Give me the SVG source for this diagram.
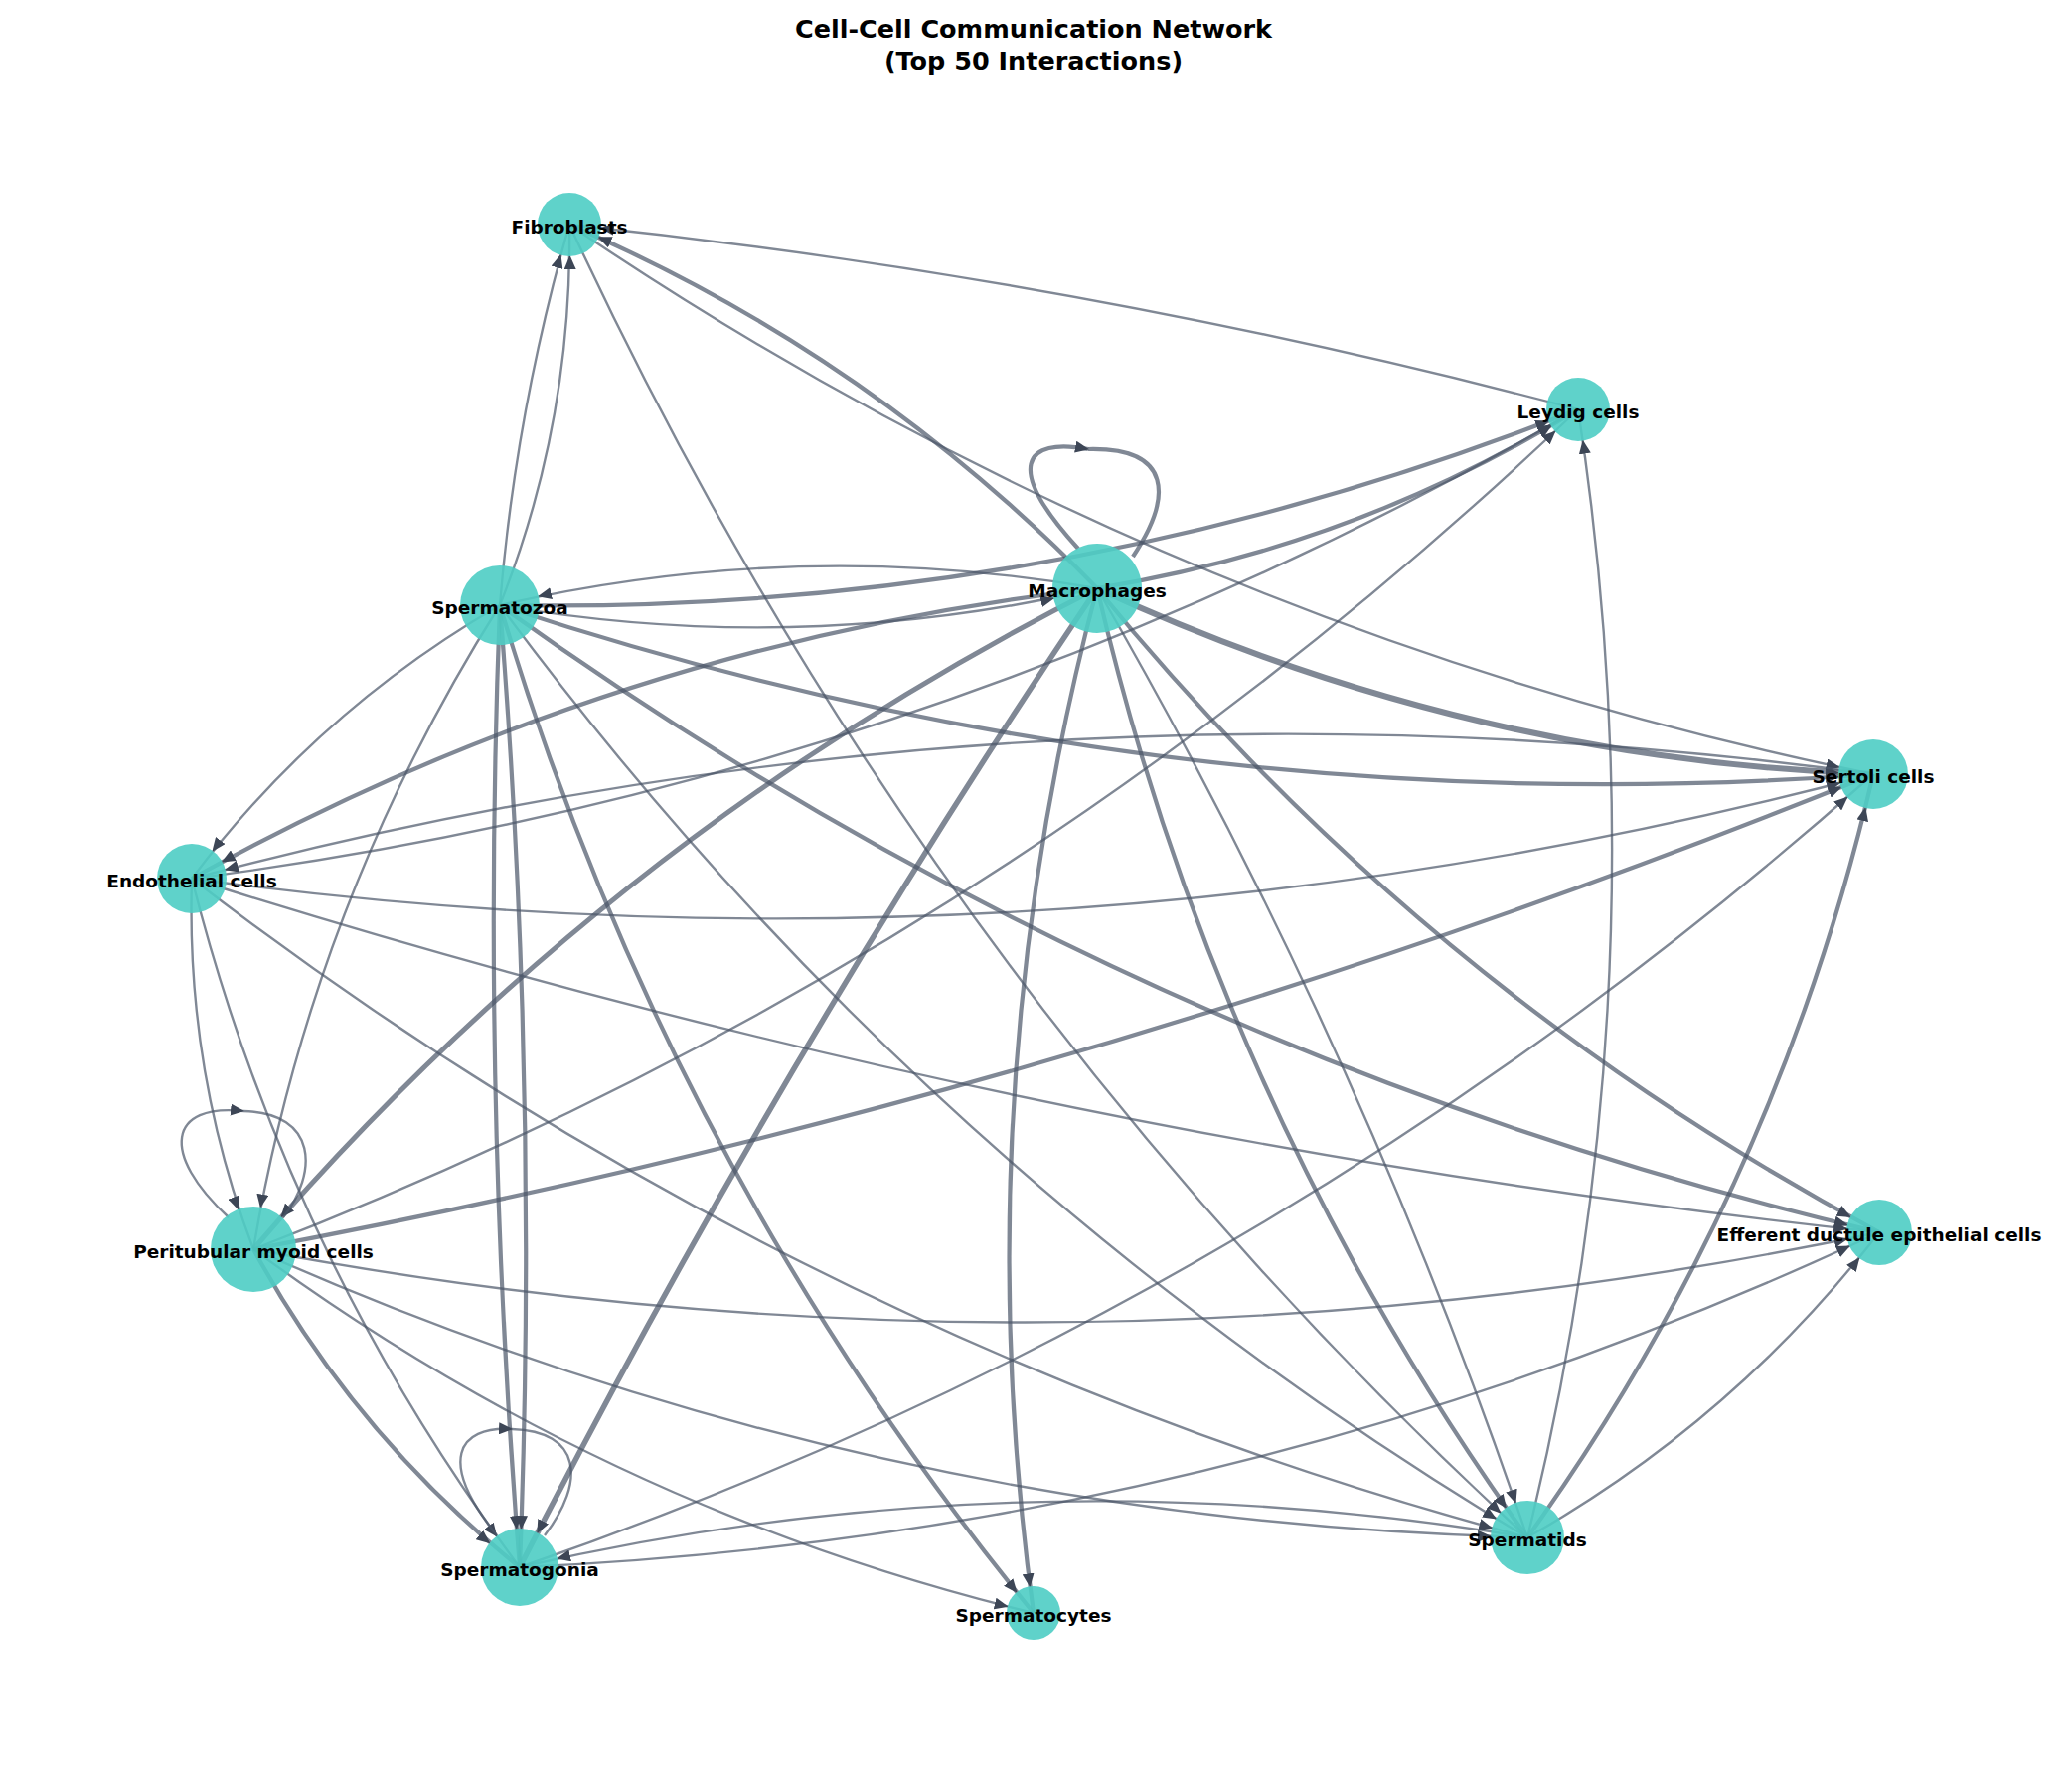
<svg xmlns="http://www.w3.org/2000/svg" width="2085" height="1783" viewBox="0 0 2085 1783">
<style>
.e{fill:none;stroke:#4a5568;stroke-opacity:0.7;stroke-width:2.4}
.t{stroke-width:4.2}
.n{fill:#4ECDC4;fill-opacity:0.9}
.l{font-family:"DejaVu Sans",sans-serif;font-weight:bold;font-size:18.5px;text-anchor:middle;dominant-baseline:central;fill:#000}
.h{font-family:"DejaVu Sans",sans-serif;font-weight:bold;font-size:25.5px;text-anchor:middle;fill:#000}
</style>
<defs>
<marker id="a0" markerUnits="userSpaceOnUse" markerWidth="14" markerHeight="12" refX="13" refY="6" orient="auto"><path d="M0,0 L14,6 L0,12 z" fill="#3d4656"/></marker>
<marker id="aF" markerUnits="userSpaceOnUse" markerWidth="14" markerHeight="12" refX="45" refY="6" orient="auto"><path d="M0,0 L14,6 L0,12 z" fill="#3d4656"/></marker>
<marker id="aL" markerUnits="userSpaceOnUse" markerWidth="14" markerHeight="12" refX="45" refY="6" orient="auto"><path d="M0,0 L14,6 L0,12 z" fill="#3d4656"/></marker>
<marker id="aM" markerUnits="userSpaceOnUse" markerWidth="14" markerHeight="12" refX="58" refY="6" orient="auto"><path d="M0,0 L14,6 L0,12 z" fill="#3d4656"/></marker>
<marker id="aZ" markerUnits="userSpaceOnUse" markerWidth="14" markerHeight="12" refX="53" refY="6" orient="auto"><path d="M0,0 L14,6 L0,12 z" fill="#3d4656"/></marker>
<marker id="aS" markerUnits="userSpaceOnUse" markerWidth="14" markerHeight="12" refX="48" refY="6" orient="auto"><path d="M0,0 L14,6 L0,12 z" fill="#3d4656"/></marker>
<marker id="aE" markerUnits="userSpaceOnUse" markerWidth="14" markerHeight="12" refX="48" refY="6" orient="auto"><path d="M0,0 L14,6 L0,12 z" fill="#3d4656"/></marker>
<marker id="aP" markerUnits="userSpaceOnUse" markerWidth="14" markerHeight="12" refX="56" refY="6" orient="auto"><path d="M0,0 L14,6 L0,12 z" fill="#3d4656"/></marker>
<marker id="aD" markerUnits="userSpaceOnUse" markerWidth="14" markerHeight="12" refX="46" refY="6" orient="auto"><path d="M0,0 L14,6 L0,12 z" fill="#3d4656"/></marker>
<marker id="aT" markerUnits="userSpaceOnUse" markerWidth="14" markerHeight="12" refX="50" refY="6" orient="auto"><path d="M0,0 L14,6 L0,12 z" fill="#3d4656"/></marker>
<marker id="aG" markerUnits="userSpaceOnUse" markerWidth="14" markerHeight="12" refX="52" refY="6" orient="auto"><path d="M0,0 L14,6 L0,12 z" fill="#3d4656"/></marker>
<marker id="aC" markerUnits="userSpaceOnUse" markerWidth="14" markerHeight="12" refX="40" refY="6" orient="auto"><path d="M0,0 L14,6 L0,12 z" fill="#3d4656"/></marker>
</defs>
<rect width="2085" height="1783" fill="#fff"/>
<text class="h" x="1040" y="38">Cell-Cell Communication Network</text>
<text class="h" x="1040" y="70">(Top 50 Interactions)</text>
<g id="connectors">
<path class="e" d="M503,609 Q576,425 573,226" marker-end="url(#aF)"/>
<path class="e" d="M503,609 Q519,414 573,226" marker-end="url(#aF)"/>
<path class="e t" d="M1104,592 Q875,356 573,226" marker-end="url(#aF)"/>
<path class="e" d="M1588,412 Q1090,280 573,226" marker-end="url(#aF)"/>
<path class="e" d="M573,226 Q1174,634 1885,779" marker-end="url(#aS)"/>
<path class="e" d="M573,226 Q923,983 1537,1547" marker-end="url(#aT)"/>
<path class="e t" d="M503,609 Q1065,619 1588,412" marker-end="url(#aL)"/>
<path class="e t" d="M1104,592 Q1364,550 1588,412" marker-end="url(#aL)"/>
<path class="e" d="M193,884 Q938,788 1588,412" marker-end="url(#aL)"/>
<path class="e" d="M255,1257 Q1006,968 1588,412" marker-end="url(#aL)"/>
<path class="e" d="M1537,1547 Q1676,985 1588,412" marker-end="url(#aL)"/>
<path class="e" d="M503,609 Q805,661 1104,592" marker-end="url(#aM)"/>
<path class="e" d="M1104,592 Q802,540 503,609" marker-end="url(#aZ)"/>
<path class="e t" d="M1085,552 C1010,470 1030,440 1095,452" marker-end="url(#a0)"/>
<path class="e t" d="M1095,452 C1180,450 1180,500 1140,560"/>
<path class="e t" d="M503,609 Q1177,832 1885,779" marker-end="url(#aS)"/>
<path class="e t" style="stroke-width:6" d="M1104,592 Q1476,764 1885,779" marker-end="url(#aS)"/>
<path class="e t" d="M255,1257 Q1094,1100 1885,779" marker-end="url(#aS)"/>
<path class="e t" d="M1537,1547 Q1788,1198 1885,779" marker-end="url(#aS)"/>
<path class="e" d="M523,1577 Q1284,1314 1885,779" marker-end="url(#aS)"/>
<path class="e" d="M193,884 Q1050,1001 1885,779" marker-end="url(#aS)"/>
<path class="e" d="M1885,779 Q1028,662 193,884" marker-end="url(#aE)"/>
<path class="e" d="M503,609 Q320,715 193,884" marker-end="url(#aE)"/>
<path class="e t" d="M1104,592 Q619,647 193,884" marker-end="url(#aE)"/>
<path class="e" d="M503,609 Q314,908 255,1257" marker-end="url(#aP)"/>
<path class="e t" style="stroke-width:5" d="M1104,592 Q613,840 255,1257" marker-end="url(#aP)"/>
<path class="e" d="M193,884 Q187,1077 255,1257" marker-end="url(#aP)"/>
<path class="e" d="M230,1225 C160,1160 170,1110 245,1118" marker-end="url(#a0)"/>
<path class="e" d="M245,1118 C320,1120 320,1180 285,1225"/>
<path class="e t" d="M503,609 Q484,1094 523,1577" marker-end="url(#aG)"/>
<path class="e t" d="M503,609 Q542,1092 523,1577" marker-end="url(#aG)"/>
<path class="e t" style="stroke-width:5.5" d="M1104,592 Q784,1067 523,1577" marker-end="url(#aG)"/>
<path class="e t" d="M255,1257 Q357,1444 523,1577" marker-end="url(#aG)"/>
<path class="e" d="M193,884 Q289,1264 523,1577" marker-end="url(#aG)"/>
<path class="e" d="M500,1545 C440,1470 460,1435 515,1438" marker-end="url(#a0)"/>
<path class="e" d="M515,1438 C585,1440 590,1490 548,1545"/>
<path class="e t" d="M503,609 Q670,1170 1040,1623" marker-end="url(#aC)"/>
<path class="e t" d="M1104,592 Q969,1101 1040,1623" marker-end="url(#aC)"/>
<path class="e" d="M255,1257 Q611,1519 1040,1623" marker-end="url(#aC)"/>
<path class="e t" d="M503,609 Q1134,1063 1891,1240" marker-end="url(#aD)"/>
<path class="e t" d="M1104,592 Q1433,995 1891,1240" marker-end="url(#aD)"/>
<path class="e" d="M193,884 Q1024,1147 1891,1240" marker-end="url(#aD)"/>
<path class="e" d="M255,1257 Q1075,1412 1891,1240" marker-end="url(#aD)"/>
<path class="e" d="M523,1577 Q1241,1545 1891,1240" marker-end="url(#aD)"/>
<path class="e" d="M1537,1547 Q1745,1429 1891,1240" marker-end="url(#aD)"/>
<path class="e" d="M503,609 Q926,1181 1537,1547" marker-end="url(#aT)"/>
<path class="e t" d="M1104,592 Q1225,1113 1537,1547" marker-end="url(#aT)"/>
<path class="e" d="M1104,592 Q1368,1048 1537,1547" marker-end="url(#aT)"/>
<path class="e" d="M193,884 Q799,1350 1537,1547" marker-end="url(#aT)"/>
<path class="e" d="M255,1257 Q867,1530 1537,1547" marker-end="url(#aT)"/>
<path class="e" d="M1537,1547 Q1027,1461 523,1577" marker-end="url(#aG)"/>
</g>
<g id="n-fibroblasts"><circle class="n" cx="573" cy="226" r="32"/><text class="l" x="573" y="228">Fibroblasts</text></g>
<g id="n-leydig"><circle class="n" cx="1588" cy="412" r="32"/><text class="l" x="1588" y="414">Leydig cells</text></g>
<g id="n-macrophages"><circle class="n" cx="1104" cy="592" r="45"/><text class="l" x="1104" y="594">Macrophages</text></g>
<g id="n-spermatozoa"><circle class="n" cx="503" cy="609" r="40"/><text class="l" x="503" y="611">Spermatozoa</text></g>
<g id="n-sertoli"><circle class="n" cx="1885" cy="779" r="35"/><text class="l" x="1885" y="781">Sertoli cells</text></g>
<g id="n-endothelial"><circle class="n" cx="193" cy="884" r="35"/><text class="l" x="193" y="886">Endothelial cells</text></g>
<g id="n-peritubular"><circle class="n" cx="255" cy="1257" r="43"/><text class="l" x="255" y="1259">Peritubular myoid cells</text></g>
<g id="n-efferent"><circle class="n" cx="1891" cy="1240" r="33"/><text class="l" x="1891" y="1242">Efferent ductule epithelial cells</text></g>
<g id="n-spermatids"><circle class="n" cx="1537" cy="1547" r="37"/><text class="l" x="1537" y="1549">Spermatids</text></g>
<g id="n-spermatogonia"><circle class="n" cx="523" cy="1577" r="39"/><text class="l" x="523" y="1579">Spermatogonia</text></g>
<g id="n-spermatocytes"><circle class="n" cx="1040" cy="1623" r="27"/><text class="l" x="1040" y="1625">Spermatocytes</text></g>
</svg>
